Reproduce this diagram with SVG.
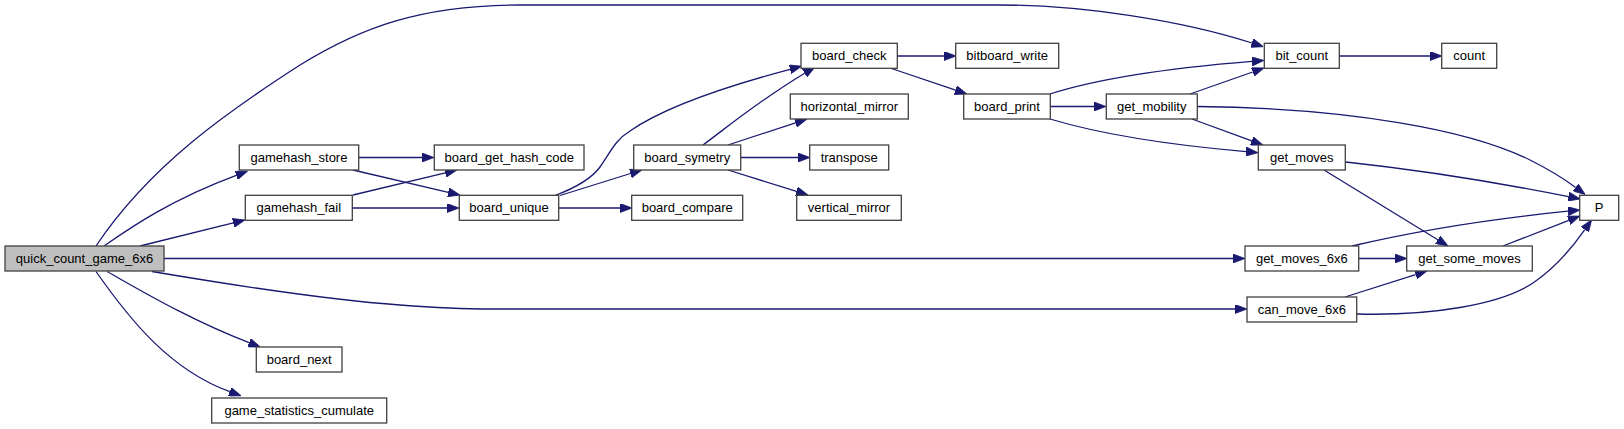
<svg xmlns="http://www.w3.org/2000/svg" width="1624" height="429" viewBox="0 0 1624 429">
<style>
.node rect{fill:#ffffff;stroke:#404040;stroke-width:1.3}
.node.root rect{fill:#bfbfbf}
.node text{font-family:"Liberation Sans",Arial,Helvetica,sans-serif;font-size:13px;fill:#000000;text-anchor:middle}
.edges path{fill:none;stroke:#191970;stroke-width:1.3;marker-end:url(#arr)}
</style>
<defs>
<marker id="arr" markerUnits="userSpaceOnUse" viewBox="0 0 12 9" refX="0" refY="4.5" markerWidth="12" markerHeight="9" orient="auto">
<path d="M0,0 L12,4.5 L0,9 Z" fill="#191970" stroke="#191970" stroke-width="0.8"/>
</marker>
</defs>
<rect width="1624" height="429" fill="#ffffff"/>
<g id="edges" class="edges">
<path d="M96,246 C150,165 230,110 300,65 C360,28 420,5 520,5 L1000,5 C1080,5 1180,20 1252,43"/>
<path d="M104,246 C130,228 170,200 236.3,175.4"/>
<path d="M140,246 L233.3,222.9"/>
<path d="M164,258.5 L1233,258.5"/>
<path d="M152,271.5 C220,283 330,300 400,305 C440,308 460,309 490,309 L1235,309"/>
<path d="M107,271.5 C140,290 190,320 249.1,342.7"/>
<path d="M96,271.5 C130,320 170,370 229.8,391.7"/>
<path d="M359,157.5 L422,157.5"/>
<path d="M353,170 L448.3,192.3"/>
<path d="M353,195 L445.3,172.8"/>
<path d="M352,208 L447,208"/>
<path d="M555,195.5 C575,188 592,178 600,167 C610,153 615,140 630,131 C660,110 720,88 790,69.3"/>
<path d="M560,195.5 L630.5,173.5"/>
<path d="M559,208 L620,208"/>
<path d="M703,145 C730,125 760,100 804.7,73.2"/>
<path d="M728,145 L795.6,122.8"/>
<path d="M741,157.5 L798,157.5"/>
<path d="M728,170 L796.5,191.4"/>
<path d="M897,56 L944,56"/>
<path d="M890,68 L955.6,90.2"/>
<path d="M1050,94 C1100,78 1170,68 1252,61.4"/>
<path d="M1050,106.5 L1094,106.5"/>
<path d="M1050,119 C1100,134 1170,145 1246,151.6"/>
<path d="M1190,94 L1252.7,72"/>
<path d="M1197,106.5 C1350,108 1470,130 1530,160 C1550,170 1563,178 1575.6,187.4"/>
<path d="M1192,119 L1251.7,140.9"/>
<path d="M1339,56 L1430,56"/>
<path d="M1345.7,162 C1420,170 1500,183 1568.5,196.6"/>
<path d="M1324,170 L1437.8,239.7"/>
<path d="M1352,246 C1420,230 1500,218 1568,211.2"/>
<path d="M1359,258.5 L1395,258.5"/>
<path d="M1503,246 L1568.8,220.4"/>
<path d="M1345,297 L1415.6,274.6"/>
<path d="M1357,314 C1430,316 1500,305 1533,283 C1555,268 1572,248 1584.8,229.6"/>
</g>
<g id="n_quick_count_game_6x6" class="node root"><rect x="5" y="246" width="159" height="25"/><text x="84.5" y="263">quick_count_game_6x6</text></g>
<g id="n_gamehash_store" class="node"><rect x="239.3" y="145" width="119.4" height="25"/><text x="299" y="162">gamehash_store</text></g>
<g id="n_gamehash_fail" class="node"><rect x="245.3" y="195.3" width="107" height="25"/><text x="298.8" y="212.3">gamehash_fail</text></g>
<g id="n_board_next" class="node"><rect x="256.3" y="347" width="85.7" height="25"/><text x="299.2" y="364">board_next</text></g>
<g id="n_game_statistics_cumulate" class="node"><rect x="211.7" y="398" width="175" height="25"/><text x="299.2" y="415">game_statistics_cumulate</text></g>
<g id="n_board_get_hash_code" class="node"><rect x="434.3" y="145" width="149.7" height="25"/><text x="509.2" y="162">board_get_hash_code</text></g>
<g id="n_board_unique" class="node"><rect x="459.3" y="195.3" width="99.4" height="25"/><text x="509" y="212.3">board_unique</text></g>
<g id="n_board_symetry" class="node"><rect x="633.7" y="145" width="107" height="25"/><text x="687.2" y="162">board_symetry</text></g>
<g id="n_board_compare" class="node"><rect x="631.7" y="195.3" width="111" height="25"/><text x="687.2" y="212.3">board_compare</text></g>
<g id="n_board_check" class="node"><rect x="801" y="43.3" width="96.3" height="25"/><text x="849.2" y="60.3">board_check</text></g>
<g id="n_horizontal_mirror" class="node"><rect x="790.3" y="94" width="118" height="25"/><text x="849.3" y="111">horizontal_mirror</text></g>
<g id="n_transpose" class="node"><rect x="809.7" y="145" width="79" height="25"/><text x="849.2" y="162">transpose</text></g>
<g id="n_vertical_mirror" class="node"><rect x="796.7" y="195.3" width="104.6" height="25"/><text x="849" y="212.3">vertical_mirror</text></g>
<g id="n_bitboard_write" class="node"><rect x="955.7" y="43.3" width="103" height="25"/><text x="1007.2" y="60.3">bitboard_write</text></g>
<g id="n_board_print" class="node"><rect x="963.7" y="94" width="86.6" height="25"/><text x="1007" y="111">board_print</text></g>
<g id="n_get_mobility" class="node"><rect x="1106.3" y="94" width="91" height="25"/><text x="1151.8" y="111">get_mobility</text></g>
<g id="n_bit_count" class="node"><rect x="1264.3" y="43.3" width="75" height="25"/><text x="1301.8" y="60.3">bit_count</text></g>
<g id="n_count" class="node"><rect x="1441.7" y="43.3" width="55" height="25"/><text x="1469.2" y="60.3">count</text></g>
<g id="n_get_moves" class="node"><rect x="1258.3" y="145" width="87" height="25"/><text x="1301.8" y="162">get_moves</text></g>
<g id="n_P" class="node"><rect x="1579.7" y="195.3" width="39" height="25"/><text x="1599.2" y="212.3">P</text></g>
<g id="n_get_moves_6x6" class="node"><rect x="1245" y="246" width="113.7" height="25"/><text x="1301.8" y="263">get_moves_6x6</text></g>
<g id="n_get_some_moves" class="node"><rect x="1406.7" y="246" width="125.6" height="25"/><text x="1469.5" y="263">get_some_moves</text></g>
<g id="n_can_move_6x6" class="node"><rect x="1247" y="297" width="109.7" height="25"/><text x="1301.8" y="314">can_move_6x6</text></g>
</svg>
